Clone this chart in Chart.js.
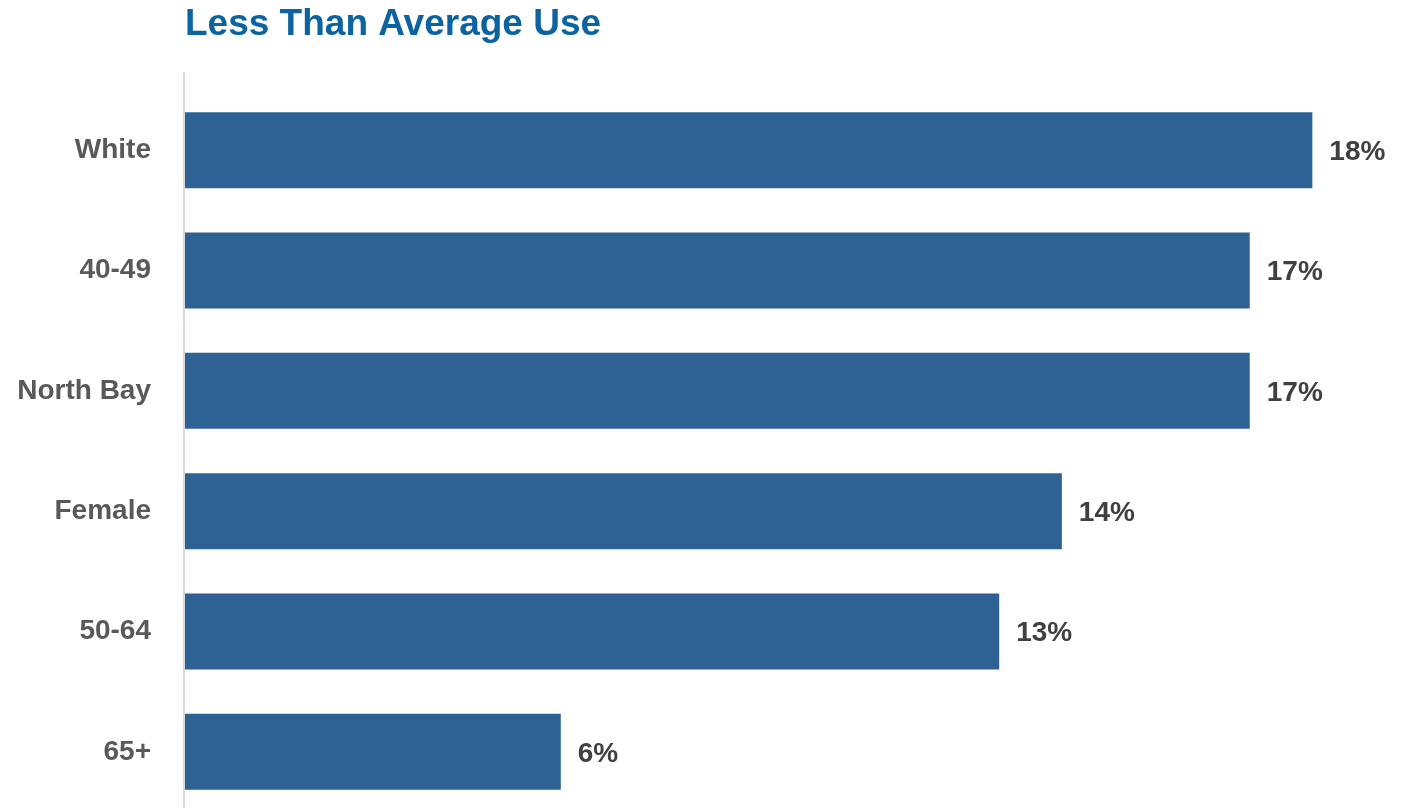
<!DOCTYPE html>
<html>
<head>
<meta charset="utf-8">
<script src="https://cdn.jsdelivr.net/npm/chart.js@4"></script>
<style>
  html, body { margin: 0; padding: 0; background: #fff; overflow: hidden; }
  canvas { display: block; }
</style>
</head>
<body>
<canvas id="useChart" width="1404" height="812"></canvas>
<script>
// data
var categories = ['White', '40-49', 'North Bay', 'Female', '50-64', '65+'];
var percents = [18, 17, 17, 14, 13, 6];
var chartTitle = 'Less Than Average Use';

var fontFamily = '"Liberation Sans", Arial, sans-serif';

// value labels to the right of each bar
var valueLabels = {
    id: 'valueLabels',
    afterDatasetsDraw: function(chart) {
        var ctx = chart.ctx;
        ctx.save();
        ctx.font = 'bold 28px ' + fontFamily;
        ctx.fillStyle = '#404040';
        ctx.textBaseline = 'middle';
        ctx.textAlign = 'left';
        chart.getDatasetMeta(0).data.forEach(function(bar, i) {
            ctx.fillText(percents[i] + '%', bar.x + 17, bar.y + 2);
        });
        ctx.restore();
    }
};

// vertical axis line (runs a bit above the first bar) and the title,
// which starts at the left edge of the plot
var axisAndTitle = {
    id: 'axisAndTitle',
    beforeDatasetsDraw: function(chart) {
        var ctx = chart.ctx;
        var area = chart.chartArea;
        ctx.save();
        ctx.strokeStyle = '#d9d9d9';
        ctx.lineWidth = 2;
        ctx.beginPath();
        ctx.moveTo(area.left - 1, area.top - 18);
        ctx.lineTo(area.left - 1, area.bottom);
        ctx.stroke();

        ctx.font = 'bold 37px ' + fontFamily;
        ctx.fillStyle = '#0b63a0';
        ctx.textBaseline = 'middle';
        ctx.textAlign = 'left';
        ctx.fillText(chartTitle, area.left, area.top - 65);
        ctx.restore();
    }
};

var ctx = document.getElementById('useChart').getContext('2d');
new Chart(ctx, {
    type: 'bar',
    data: {
        labels: categories,
        datasets: [{
            data: percents,
            backgroundColor: '#2e6295',
            borderWidth: 0,
            categoryPercentage: 1,
            barPercentage: 0.632
        }]
    },
    options: {
        indexAxis: 'y',
        responsive: false,
        animation: false,
        layout: { padding: { left: 0, right: 29, top: 90, bottom: 0 } },
        plugins: {
            legend: { display: false },
            tooltip: { enabled: false },
            title: { display: false }
        },
        scales: {
            x: {
                display: false,
                min: 0,
                max: 19
            },
            y: {
                afterFit: function(scale) {
                    scale.width = 185;
                    // labels sit in the middle of each band, no extra room needed
                    scale.paddingTop = 0;
                    scale.paddingBottom = 0;
                },
                grid: { display: false, drawTicks: false },
                border: { display: false },
                ticks: {
                    padding: 34,
                    color: '#595959',
                    font: { family: fontFamily, size: 28, weight: 'bold' }
                }
            }
        }
    },
    plugins: [axisAndTitle, valueLabels]
});
</script>
</body>
</html>
